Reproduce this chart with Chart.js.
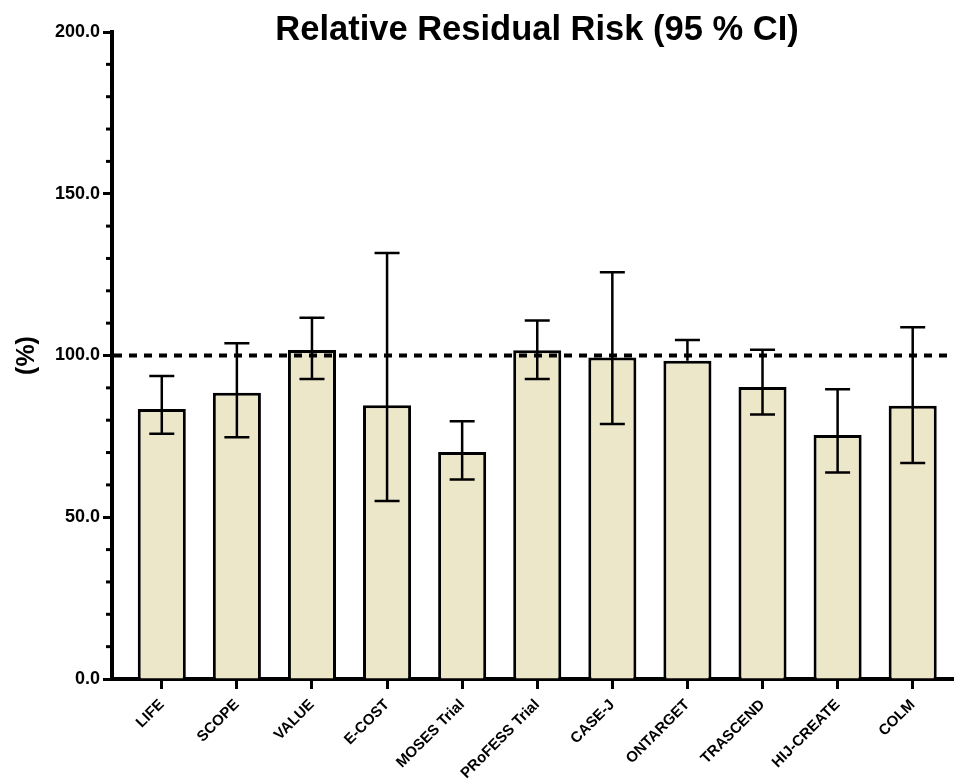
<!DOCTYPE html>
<html>
<head>
<meta charset="utf-8">
<script src="https://cdn.jsdelivr.net/npm/chart.js@4"></script>
<style>
  body { margin: 0; background: #fff; }
  canvas { display: block; }
</style>
</head>
<body>
<canvas id="rrrChart" width="954" height="779"></canvas>
<script>
// Data
var trials = ['LIFE', 'SCOPE', 'VALUE', 'E-COST', 'MOSES Trial', 'PRoFESS Trial', 'CASE-J', 'ONTARGET', 'TRASCEND', 'HIJ-CREATE', 'COLM'];
var residualRisk = [83.5, 88.5, 101.7, 84.6, 70.2, 101.6, 99.4, 98.4, 90.3, 75.4, 84.5];
var ciLower = [75.8, 74.7, 92.7, 55.0, 61.7, 92.7, 78.8, 98.4, 81.8, 63.8, 66.8];
var ciUpper = [93.7, 103.8, 111.7, 131.7, 79.7, 110.8, 125.7, 104.8, 101.8, 89.6, 108.7];
var yTicks = [0, 50, 100, 150, 200];
var referenceLine = 100;

Chart.defaults.font.family = '"Liberation Sans", Arial, sans-serif';
Chart.defaults.color = '#000';

var ctx = document.getElementById('rrrChart').getContext('2d');
var rrrChart = new Chart(ctx, {
    type: 'bar',
    data: {
        datasets: [{
            label: 'Relative Residual Risk',
            data: residualRisk.map(function (v, i) { return { x: i, y: v }; }),
            backgroundColor: '#EDE7C9',
            borderColor: '#000',
            borderWidth: 3,
            borderSkipped: 'bottom',
            barPercentage: 0.64,
            categoryPercentage: 1.0
        }]
    },
    options: {
        responsive: false,
        animation: false,
        layout: {
            padding: { top: 32, right: 0, left: 0, bottom: 0 }
        },
        scales: {
            x: {
                type: 'linear',
                offset: false,
                min: -0.663,
                max: 10.55,
                border: { display: true, color: '#000', width: 4 },
                grid: {
                    display: true,
                    offset: false,
                    drawOnChartArea: false,
                    drawTicks: true,
                    tickLength: 10,
                    tickWidth: 3,
                    tickColor: '#000'
                },
                ticks: {
                    stepSize: 1,
                    includeBounds: false,
                    autoSkip: false,
                    minRotation: 45,
                    maxRotation: 45,
                    padding: 7,
                    font: { size: 15, weight: 'bold' },
                    callback: function (value) {
                        return Number.isInteger(value) ? (trials[value] || '') : '';
                    }
                },
                afterFit: function (scale) { scale.height = 100; }
            },
            y: {
                min: 0,
                max: 200,
                border: { display: true, color: '#000', width: 4 },
                grid: {
                    display: true,
                    drawOnChartArea: false,
                    drawTicks: true,
                    tickLength: 9,
                    tickWidth: 3,
                    tickColor: '#000'
                },
                afterBuildTicks: function (scale) {
                    scale.ticks = yTicks.map(function (v) { return { value: v }; });
                },
                ticks: {
                    padding: 3,
                    font: { size: 18, weight: 'bold' },
                    callback: function (value) { return value.toFixed(1); }
                },
                title: {
                    display: true,
                    text: '(%)',
                    font: { size: 25, weight: 'bold' },
                    padding: { top: 12, bottom: 0 }
                },
                afterFit: function (scale) { scale.width = 112; }
            }
        },
        plugins: {
            legend: { display: false },
            title: { display: false },
            tooltip: { enabled: false }
        }
    },
    plugins: [{
        id: 'extras',
        afterDatasetsDraw: function (chart) {
            var c = chart.ctx;
            var xs = chart.scales.x;
            var ys = chart.scales.y;
            var area = chart.chartArea;
            c.save();

            // minor ticks on y axis
            c.strokeStyle = '#000';
            c.lineWidth = 3;
            for (var v = 10; v < 200; v += 10) {
                if (v % 50 === 0) continue;
                var py = ys.getPixelForValue(v);
                c.beginPath();
                c.moveTo(area.left - 6, py);
                c.lineTo(area.left, py);
                c.stroke();
            }

            // dashed reference line
            var ry = ys.getPixelForValue(referenceLine);
            c.lineWidth = 4;
            c.setLineDash([8, 7]);
            c.beginPath();
            c.moveTo(area.left + 2, ry);
            c.lineTo(area.right, ry);
            c.stroke();
            c.setLineDash([]);

            // error bars
            c.lineWidth = 2.5;
            var half = 12.5;
            for (var i = 0; i < trials.length; i++) {
                var px = xs.getPixelForValue(i);
                var top = ys.getPixelForValue(ciUpper[i]);
                var bot = ys.getPixelForValue(ciLower[i]);
                c.beginPath();
                c.moveTo(px, top);
                c.lineTo(px, bot);
                c.moveTo(px - half, top);
                c.lineTo(px + half, top);
                if (ciLower[i] < residualRisk[i]) {
                    c.moveTo(px - half, bot);
                    c.lineTo(px + half, bot);
                }
                c.stroke();
            }

            // chart title
            c.fillStyle = '#000';
            c.font = 'bold 34.5px "Liberation Sans", Arial, sans-serif';
            c.textAlign = 'center';
            c.textBaseline = 'alphabetic';
            c.fillText('Relative Residual Risk (95 % CI)', 537, 40);
            c.restore();
        }
    }]
});
</script>
</body>
</html>
